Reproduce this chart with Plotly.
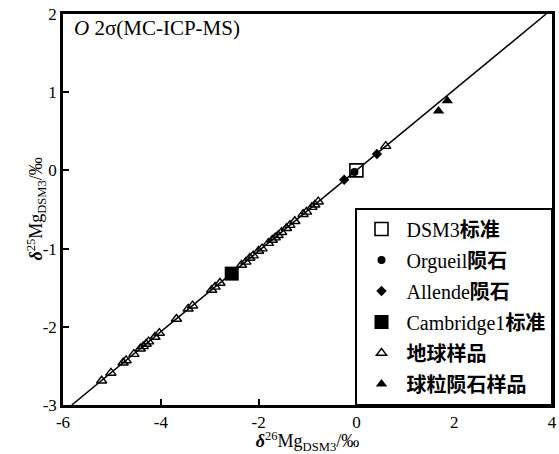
import plotly.graph_objects as go

# ---- data ----
earth_d26 = [-5.21, -5.02, -4.77, -4.71, -4.55, -4.42, -4.36, -4.30, -4.25, -4.12,
             -4.03, -3.68, -3.44, -3.35, -2.96, -2.89, -2.79, -2.35, -2.26, -2.18,
             -2.11, -2.00, -1.93, -1.80, -1.72, -1.66, -1.60, -1.53, -1.43, -1.36,
             -1.26, -1.09, -1.02, -0.91, -0.85, -0.78, 0.60]
earth_d25 = [-2.69, -2.59, -2.46, -2.43, -2.35, -2.28, -2.25, -2.22, -2.19, -2.13,
             -2.08, -1.90, -1.77, -1.73, -1.53, -1.49, -1.44, -1.21, -1.17, -1.12,
             -1.09, -1.03, -1.00, -0.93, -0.89, -0.86, -0.83, -0.79, -0.74, -0.70,
             -0.65, -0.56, -0.53, -0.47, -0.44, -0.40, 0.31]
chondrule_d26 = [1.68, 1.86]
chondrule_d25 = [0.76, 0.89]
dsm3_d26 = [0.0]
dsm3_d25 = [0.0]
orgueil_d26 = [-0.04]
orgueil_d25 = [-0.02]
allende_d26 = [-0.25, 0.42]
allende_d25 = [-0.12, 0.21]
cambridge_d26 = [-2.55]
cambridge_d25 = [-1.32]
line_d26 = [-5.82, 3.88]
line_d25 = [-3.0, 2.0]

x_ticks = [-6, -4, -2, 0, 2, 4]
x_ticktext = ["-6", "-4", "-2", "0", "2", "4"]
y_ticks = [-3, -2, -1, 0, 1, 2]
y_ticktext = ["-3", "-2", "-1", "0", "1", "2"]

SERIF = "Liberation Serif"
CJK = '<span style="font-family:Noto Sans CJK SC;font-weight:bold">{}</span>'

fig = go.Figure()
fig.add_trace(go.Scatter(x=line_d26, y=line_d25, mode="lines",
                         line=dict(color="black", width=1.5), showlegend=False,
                         hoverinfo="skip"))

series = [
    ("DSM3" + CJK.format("标准"), dsm3_d26, dsm3_d25, "square-open", 13, 1.6),
    ("Orgueil" + CJK.format("陨石"), orgueil_d26, orgueil_d25, "circle", 8, 0),
    ("Allende" + CJK.format("陨石"), allende_d26, allende_d25, "diamond", 8, 0),
    ("Cambridge1" + CJK.format("标准"), cambridge_d26, cambridge_d25, "square", 14, 0),
    (CJK.format("地球样品"), earth_d26, earth_d25, "triangle-up-open", 9, 1.4),
    (CJK.format("球粒陨石样品"), chondrule_d26, chondrule_d25, "triangle-up", 10, 0),
]
for i, (name, xs, ys, sym, sz, lw) in enumerate(series):
    fig.add_trace(go.Scatter(
        x=xs, y=ys, mode="markers", name=name, legendgroup=f"g{i}",
        marker=dict(symbol=sym, size=sz, color="black",
                    line=dict(color="black", width=lw)),
    ))

fig.add_annotation(xref="paper", yref="paper", x=0.018, y=1.0,
                   xanchor="left", yanchor="top", showarrow=False,
                   text="<i>O</i> 2σ(MC-ICP-MS)",
                   font=dict(family=SERIF, size=21, color="black"))

fig.add_annotation(xref="paper", yref="paper", x=-0.055, y=0.5,
                   xanchor="center", yanchor="middle", showarrow=False,
                   textangle=-90,
                   text="<b><i>δ</i></b><sup>25</sup>Mg<sub>DSM3</sub>/‰",
                   font=dict(family=SERIF, size=18, color="black"))

axis_common = dict(showline=True, linecolor="black", linewidth=2.5, mirror=True,
                   ticks="inside", ticklen=6, tickwidth=1.5, tickcolor="black",
                   showgrid=False, zeroline=False, automargin=False,
                   tickfont=dict(family=SERIF, size=17, color="black"))

fig.update_layout(
    width=559, height=454,
    margin=dict(l=63, r=7, t=14, b=49),
    plot_bgcolor="white", paper_bgcolor="white",
    font=dict(family=SERIF, size=17, color="black"),
    xaxis=dict(range=[-6, 4], tickvals=x_ticks, ticktext=x_ticktext,
               title=dict(text="<b><i>δ</i></b><sup>26</sup>Mg<sub>DSM3</sub>/‰",
                          standoff=9, font=dict(family=SERIF, size=18)),
               **axis_common),
    yaxis=dict(range=[-3, 2], tickvals=y_ticks, ticktext=y_ticktext,
               **axis_common),
    legend=dict(x=1, y=0, xanchor="right", yanchor="bottom",
                bordercolor="black", borderwidth=1.5, bgcolor="white",
                font=dict(family=SERIF, size=20, color="black"),
                tracegroupgap=2, itemwidth=40),
)

fig.write_html("out.html")
